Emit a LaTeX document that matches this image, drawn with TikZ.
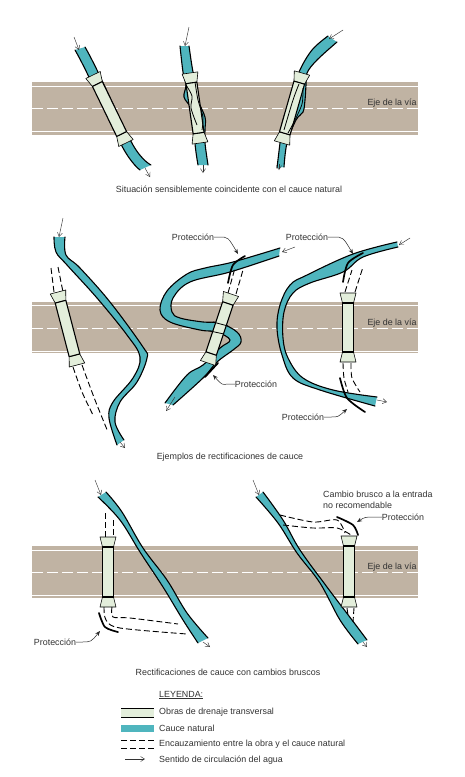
\documentclass[tikz,border=0pt]{standalone}
\usepackage{fontspec}
\setmainfont{Liberation Sans}
\usepackage{tikz}
\usetikzlibrary{arrows.meta, positioning}
\definecolor{viagris}{RGB}{192,179,163}
\definecolor{riocol}{RGB}{79,181,190}
\definecolor{obracol}{RGB}{227,238,219}
\definecolor{textogris}{RGB}{50,50,50}

% banks and water of one stream: first edge, then second edge walked back
\newcommand{\cauce}[2]{
  \fill[rio] plot[smooth,tension=.6] coordinates {#1} -- plot[smooth,tension=.6] coordinates {#2} -- cycle;
  \draw[orilla] plot[smooth,tension=.6] coordinates {#1};
  \draw[orilla] plot[smooth,tension=.6] coordinates {#2};
}
% culvert from upper end to lower end
\newcommand{\obra}[4]{
  \pgfmathsetmacro\ang{atan2(#3-#1,#4-#2)}
  \pgfmathsetmacro\lon{veclen(#3-#1,#4-#2)}
  \begin{scope}[shift={(#1,#2)},rotate=\ang]
    \draw[ala] (-8,0) -- (8,0) -- (5.5,10) -- (-5.5,10) -- cycle;
    \draw[ala] (-8,\lon) -- (8,\lon) -- (5.5,\lon-10) -- (-5.5,\lon-10) -- cycle;
    \fill[obracol] (-5.5,10) rectangle (5.5,\lon-10);
    \draw[orilla] (-5.5,10) -- (-5.5,\lon-10) (5.5,10) -- (5.5,\lon-10) (-5.5,10) -- (5.5,10) (-5.5,\lon-10) -- (5.5,\lon-10);
  \end{scope}
}

\begin{document}
\begin{tikzpicture}[
  x=1pt, y=-1pt,
  rio/.style={fill=riocol},
  orilla/.style={black, line width=1.1pt, line cap=round},
  bajo/.style={black, line width=.8pt},
  ala/.style={draw=black, fill=obracol, line width=.6pt, line join=round},
  encauce/.style={black, line width=.9pt, dash pattern=on 6pt off 3pt},
  defensa/.style={black, line width=1.7pt, line cap=round},
  flujo/.style={-{Straight Barb[length=4pt,width=5pt]}, black!80, line width=.45pt},
  guia/.style={-{Stealth[length=5pt,width=4pt]}, black!85, line width=.5pt},
  txt/.style={font=\fontsize{8.9}{10.5}\selectfont, text=textogris, inner sep=0pt}
]
\useasboundingbox (0,0) rectangle (465,777);

% roads
\foreach \arr/\la/\ej/\lb/\aba in {82/86/108/131/135, 302/305/328/351/353, 546/550/572/595/598}{
  \fill[viagris] (32,\arr) rectangle (418,\aba);
  \draw[white, line width=.8pt] (32,\la) -- (418,\la) (32,\lb) -- (418,\lb);
  \draw[white, line width=.8pt, dash pattern=on 11pt off 4pt] (32,\ej) -- (418,\ej);
}

% first row
\cauce{(75,50) (87,73) (123,148) (140,170)}{(151,165) (133,145) (97,70) (85,47)}
\obra{93}{75}{126}{143}
\cauce{(180,46) (183,72) (186,85) (184,97) (191,108) (196,125) (195,143) (198,165)}{(208,165) (205,143) (205,130) (205,117) (198,100) (197,85) (193,72) (189,46)}
\obra{190}{73}{200}{143}
\draw[bajo] plot[smooth] coordinates {(186,85) (192,96) (191,108) (197,125)};
\draw[bajo] plot[smooth] coordinates {(195,82) (198,100) (203,117) (202,130)};
\cauce{(328,36) (312,50) (299,72) (292,95) (283,120) (280,143) (277,168)}{(284,167) (287,143) (296,120) (303,112) (305,100) (306,85) (307,73) (317,60) (337,42)}
\obra{302}{73}{282}{143}
\draw[bajo] plot[smooth] coordinates {(299,84) (293,100) (284,130)};
\draw[bajo] plot[smooth] coordinates {(303,88) (302,104) (294,122) (288,133)};

% second row
\cauce{(54,237) (56,252) (67,265) (97,298) (127,335) (140,357) (133,378) (113,402) (109,418) (117,445)}{(124,440) (115,422) (120,402) (137,382) (147,358) (143,347) (110,302) (80,268) (66,255) (65,237)}
\obra{58}{292}{77}{365}
\cauce{(280,248) (233,262) (205,268) (187,274) (167,291) (160,310) (170,322) (200,330) (217,332) (230,340) (220,348) (203,365) (187,375) (165,403)}{(173,405) (203,378) (217,362) (233,350) (241,342) (237,332) (220,323) (203,322) (180,318) (172,312) (173,298) (190,282) (230,272) (279,256)}
\obra{231}{294}{208}{363}
\draw[bajo] (213,322) -- (228,326);
\draw[bajo] (210,331) -- (224,334);
\cauce{(397,242) (353,254) (307,275) (290,285) (280,305) (277,328) (282,355) (293,378) (320,390) (375,406)}{(377,397) (333,390) (303,378) (288,358) (283,338) (284,312) (293,293) (310,283) (343,272) (363,257) (398,247)}
\obra{348}{293}{348}{362}

% third row
\cauce{(98,497) (120,520) (140,552) (163,587) (183,620) (198,643)}{(208,638) (187,613) (167,580) (143,548) (122,512) (106,492)}
\obra{108}{537}{108}{607}
\cauce{(256,497) (278,523) (297,553) (320,583) (340,620) (358,644)}{(367,640) (352,620) (327,587) (300,550) (283,520) (263,492)}
\obra{349}{536}{349}{607}

% dashed channels
\draw[encauce] (51,268) -- (54,292);
\draw[encauce] (58,267) -- (63,292);
\draw[encauce] plot[smooth] coordinates {(73,367) (82,392) (93,415)};
\draw[encauce] plot[smooth] coordinates {(82,365) (95,400) (108,432)};
\draw[encauce] (228,293) -- (235,268);
\draw[encauce] (236,294) -- (243,270);
\draw[encauce] (345,292) -- (352,270);
\draw[encauce] (355,292) -- (363,267);
\draw[encauce] plot[smooth] coordinates {(343,363) (344,378) (348,392)};
\draw[encauce] plot[smooth] coordinates {(351,363) (352,378) (360,392)};
\draw[encauce] (105,513) -- (105,537);
\draw[encauce] (113,520) -- (113,537);
\draw[encauce] plot[smooth] coordinates {(104,607) (106,620) (120,628) (187,634)};
\draw[encauce] plot[smooth] coordinates {(112,607) (113,617) (130,618) (178,624)};
\draw[encauce] plot[smooth] coordinates {(280,515) (313,522) (337,520) (345,533)};
\draw[encauce] plot[smooth] coordinates {(283,525) (313,528) (337,528) (351,535)};
\draw[encauce] (347,608) -- (348,615);
\draw[encauce] (354,608) -- (353,622);

% protections
\draw[defensa] plot[smooth] coordinates {(245,256) (233,265) (228,283)};
\draw[defensa] (218,363) -- (205,377);
\draw[defensa] plot[smooth] coordinates {(363,253) (348,263) (343,282)};
\draw[defensa] plot[smooth] coordinates {(340,378) (347,398) (365,412)};
\draw[defensa] plot[smooth] coordinates {(99,613) (105,627) (118,632)};
\draw[defensa] plot[smooth] coordinates {(337,517) (353,525) (358,535)};

% flow arrows
\foreach \i/\a/\b in {1/{74,37}/{79,50}, 2/{145,168}/{150,177}, 3/{189,27}/{185,46}, 4/{203,165}/{203,173},
  5/{343,30}/{329,39}, 6/{279,164}/{279,170}, 7/{63,218}/{59,237}, 8/{120,442}/{125,448},
  9/{295,247}/{282,252}, 10/{175,397}/{166,411}, 11/{410,238}/{399,245}, 12/{377,400}/{387,402},
  13/{95,480}/{101,495}, 14/{203,642}/{210,647}, 15/{253,480}/{259,495}, 16/{363,642}/{367,647}}{
  \coordinate (fa\i) at (\a);
  \coordinate (fb\i) at (\b);
  \draw[flujo] (fa\i) -- (fb\i);
}

% labels
\node[txt] (eje1) at (392,103) {Eje de la vía};
\node[txt] (eje2) at (392,323) {Eje de la vía};
\node[txt] (eje3) at (392,567) {Eje de la vía};
\node[txt] (sit1) at (229,189) {Situación sensiblemente coincidente con el cauce natural};
\node[txt] (sit2) at (230,457) {Ejemplos de rectificaciones de cauce};
\node[txt] (sit3) at (228,672) {Rectificaciones de cauce con cambios bruscos};
\node[txt, align=left, anchor=west] (cambio) at (323,500) {Cambio brusco a la entrada\\no recomendable};

\node[txt] (prot1) at (193,237) {Protección};
\node[txt] (prot2) at (256,384) {Protección};
\node[txt] (prot3) at (307,237) {Protección};
\node[txt] (prot4) at (303,417) {Protección};
\node[txt] (prot5) at (55,642) {Protección};
\node[txt] (prot6) at (403,517) {Protección};
\coordinate (def1) at (238,254);
\coordinate (def2) at (213,375);
\coordinate (def3) at (353,254);
\coordinate (def4) at (347,409);
\coordinate (def5) at (100,631);
\coordinate (def6) at (357,522);
\draw[guia] (prot1.east) -- ++(5,0) .. controls (228,237) .. (def1);
\draw[guia] (prot2.west) -- ++(-7,0) .. controls (222,385) .. (def2);
\draw[guia] (prot3.east) -- ++(5,0) .. controls (343,237) .. (def3);
\draw[guia] (prot4.east) -- ++(7,0) .. controls (338,417) .. (def4);
\draw[guia] (prot5.east) -- ++(5,0) .. controls (91,642) .. (def5);
\draw[guia] (prot6.west) -- ++(-6,0) .. controls (365,517) .. (def6);

% legend
\node[txt, anchor=west] (leyenda) at (159,695) {\underline{LEYENDA:}};
\node[txt, anchor=west] (ley1) at (159,712) {Obras de drenaje transversal};
\node[txt, anchor=west] (ley2) at (159,728) {Cauce natural};
\node[txt, anchor=west] (ley3) at (159,744) {Encauzamiento entre la obra y el cauce natural};
\node[txt, anchor=west] (ley4) at (159,760) {Sentido de circulación del agua};
\fill[obracol] (121,708) rectangle (154,717);
\draw[black, line width=1pt] (121,708) -- (154,708) (121,717) -- (154,717);
\fill[riocol] (121,725) rectangle (154,732);
\draw[encauce] (121,740) -- (154,740);
\draw[encauce] (121,748) -- (154,748);
\coordinate (leya) at (125,759);
\coordinate (leyb) at (145,759);
\draw[flujo] (leya) -- (leyb);
\end{tikzpicture}
\end{document}
